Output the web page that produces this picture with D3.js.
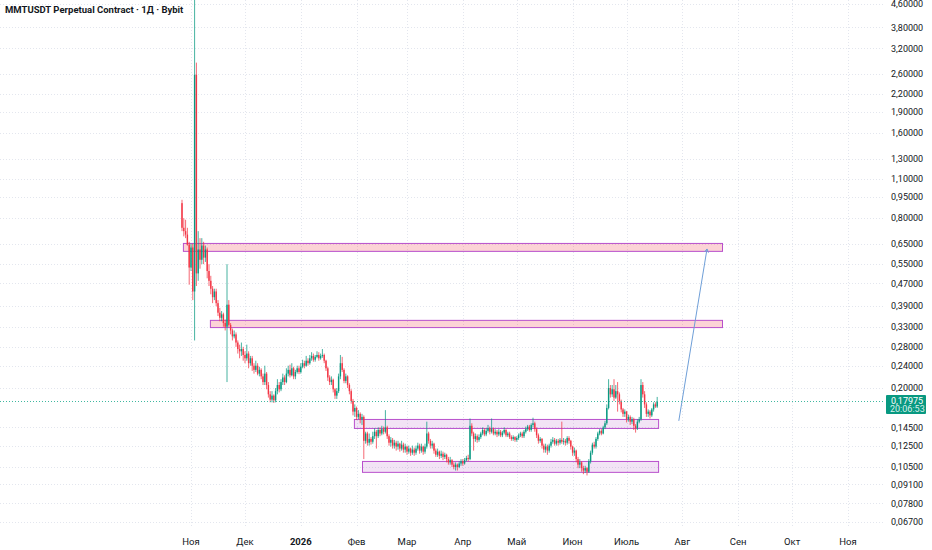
<!DOCTYPE html>
<html>
<head>
<meta charset="utf-8">
<script src="https://cdn.jsdelivr.net/npm/d3@7"></script>
<style>
body { margin: 0; background: #fff; }
svg { display: block; font-family: Roboto, "Liberation Sans", sans-serif; }
</style>
</head>
<body>
<svg id="chart"></svg>
<script>
// daily candles, first one on this day, one per day after
const firstDay = '2025-10-27';

const opens = [
	0.905, 0.74, 0.72, 0.70, 0.645, 0.535, 0.63, 0.44, 2.58, 0.51,
	0.62, 0.57, 0.64, 0.58, 0.62, 0.52, 0.48, 0.45, 0.42, 0.44,
	0.40, 0.37, 0.355, 0.365, 0.34, 0.33, 0.395, 0.335, 0.32, 0.305,
	0.31, 0.29, 0.275, 0.27, 0.275, 0.262, 0.255, 0.265, 0.245, 0.255,
	0.24, 0.232, 0.24, 0.225, 0.232, 0.22, 0.21, 0.225, 0.205, 0.19,
	0.182, 0.188, 0.181, 0.195, 0.205, 0.198, 0.21, 0.218, 0.21, 0.225,
	0.232, 0.222, 0.235, 0.22, 0.228, 0.235, 0.228, 0.238, 0.245, 0.24,
	0.25, 0.245, 0.255, 0.26, 0.252, 0.258, 0.262, 0.255, 0.26, 0.262,
	0.25, 0.235, 0.218, 0.21, 0.214, 0.198, 0.188, 0.195, 0.22, 0.245,
	0.232, 0.212, 0.22, 0.205, 0.195, 0.18, 0.165, 0.17, 0.158, 0.162,
	0.155, 0.158, 0.13, 0.138, 0.128, 0.132, 0.129, 0.135, 0.14, 0.135,
	0.142, 0.138, 0.143, 0.14, 0.145, 0.135, 0.128, 0.131, 0.125, 0.128,
	0.124, 0.127, 0.122, 0.126, 0.121, 0.124, 0.119, 0.122, 0.118, 0.121,
	0.118, 0.122, 0.125, 0.12, 0.124, 0.119, 0.124, 0.138, 0.13, 0.125,
	0.127, 0.12, 0.116, 0.119, 0.115, 0.117, 0.114, 0.116, 0.112, 0.109,
	0.111, 0.107, 0.105, 0.107, 0.105, 0.108, 0.11, 0.108, 0.111, 0.113,
	0.112, 0.147, 0.138, 0.132, 0.135, 0.131, 0.134, 0.138, 0.142, 0.137,
	0.141, 0.144, 0.14, 0.143, 0.138, 0.14, 0.137, 0.14, 0.136, 0.139,
	0.142, 0.136, 0.138, 0.134, 0.132, 0.134, 0.131, 0.133, 0.136, 0.138,
	0.135, 0.14, 0.143, 0.146, 0.142, 0.148, 0.15, 0.143, 0.136, 0.13,
	0.132, 0.125, 0.121, 0.124, 0.12, 0.125, 0.129, 0.131, 0.127, 0.13,
	0.128, 0.131, 0.129, 0.13, 0.128, 0.133, 0.13, 0.124, 0.118, 0.12,
	0.112, 0.107, 0.109, 0.104, 0.102, 0.104, 0.101, 0.11, 0.118, 0.126,
	0.124, 0.132, 0.138, 0.141, 0.138, 0.145, 0.15, 0.17, 0.20, 0.19,
	0.198, 0.185, 0.195, 0.19, 0.18, 0.168, 0.162, 0.165, 0.155, 0.158,
	0.152, 0.155, 0.147, 0.144, 0.152, 0.155, 0.205, 0.19, 0.175, 0.162,
	0.165, 0.16, 0.168, 0.175, 0.172
];
const highs = [
	0.93, 0.80, 0.79, 0.74, 0.66, 0.65, 0.65, 5.3, 2.85, 0.72,
	0.68, 0.68, 0.66, 0.64, 0.63, 0.55, 0.50, 0.46, 0.45, 0.45,
	0.41, 0.385, 0.375, 0.37, 0.35, 0.55, 0.41, 0.34, 0.325, 0.32,
	0.315, 0.295, 0.285, 0.29, 0.28, 0.27, 0.285, 0.27, 0.26, 0.26,
	0.245, 0.25, 0.245, 0.238, 0.235, 0.225, 0.24, 0.228, 0.21, 0.195,
	0.195, 0.19, 0.20, 0.215, 0.21, 0.215, 0.225, 0.222, 0.235, 0.24,
	0.242, 0.245, 0.238, 0.232, 0.24, 0.24, 0.245, 0.252, 0.25, 0.26,
	0.255, 0.262, 0.268, 0.265, 0.262, 0.27, 0.268, 0.265, 0.275, 0.265,
	0.252, 0.238, 0.222, 0.22, 0.216, 0.20, 0.20, 0.225, 0.262, 0.258,
	0.235, 0.225, 0.222, 0.208, 0.198, 0.183, 0.175, 0.172, 0.167, 0.164,
	0.162, 0.16, 0.14, 0.14, 0.138, 0.134, 0.14, 0.144, 0.142, 0.145,
	0.145, 0.147, 0.146, 0.167, 0.147, 0.137, 0.134, 0.133, 0.131, 0.13,
	0.13, 0.128, 0.13, 0.128, 0.127, 0.125, 0.125, 0.123, 0.125, 0.123,
	0.125, 0.128, 0.127, 0.127, 0.125, 0.127, 0.152, 0.14, 0.132, 0.13,
	0.128, 0.122, 0.122, 0.12, 0.12, 0.119, 0.118, 0.117, 0.114, 0.114,
	0.112, 0.109, 0.109, 0.108, 0.11, 0.112, 0.112, 0.113, 0.115, 0.116,
	0.156, 0.15, 0.14, 0.138, 0.137, 0.137, 0.14, 0.145, 0.144, 0.144,
	0.148, 0.146, 0.156, 0.145, 0.143, 0.142, 0.143, 0.142, 0.141, 0.145,
	0.143, 0.14, 0.14, 0.136, 0.136, 0.135, 0.135, 0.138, 0.14, 0.14,
	0.142, 0.146, 0.148, 0.148, 0.15, 0.157, 0.152, 0.145, 0.138, 0.134,
	0.133, 0.127, 0.127, 0.126, 0.127, 0.132, 0.134, 0.133, 0.132, 0.132,
	0.133, 0.152, 0.133, 0.132, 0.135, 0.135, 0.131, 0.125, 0.123, 0.121,
	0.114, 0.112, 0.11, 0.106, 0.106, 0.105, 0.112, 0.12, 0.128, 0.129,
	0.134, 0.14, 0.143, 0.143, 0.147, 0.153, 0.175, 0.215, 0.205, 0.205,
	0.215, 0.205, 0.21, 0.193, 0.182, 0.17, 0.168, 0.166, 0.161, 0.16,
	0.158, 0.157, 0.149, 0.155, 0.158, 0.215, 0.21, 0.195, 0.178, 0.168,
	0.167, 0.17, 0.178, 0.178, 0.186
];
const lows = [
	0.72, 0.69, 0.68, 0.64, 0.465, 0.52, 0.41, 0.295, 0.46, 0.48,
	0.53, 0.55, 0.55, 0.56, 0.49, 0.46, 0.43, 0.40, 0.41, 0.39,
	0.36, 0.345, 0.345, 0.33, 0.32, 0.21, 0.33, 0.31, 0.295, 0.30,
	0.28, 0.265, 0.255, 0.26, 0.25, 0.245, 0.25, 0.235, 0.24, 0.23,
	0.225, 0.228, 0.222, 0.22, 0.215, 0.205, 0.205, 0.198, 0.185, 0.178,
	0.178, 0.177, 0.178, 0.19, 0.193, 0.195, 0.205, 0.205, 0.208, 0.22,
	0.218, 0.22, 0.215, 0.215, 0.225, 0.224, 0.225, 0.235, 0.235, 0.238,
	0.24, 0.242, 0.25, 0.248, 0.248, 0.255, 0.25, 0.252, 0.256, 0.245,
	0.23, 0.212, 0.205, 0.205, 0.193, 0.183, 0.183, 0.192, 0.215, 0.228,
	0.208, 0.208, 0.20, 0.19, 0.176, 0.16, 0.158, 0.154, 0.155, 0.15,
	0.148, 0.112, 0.127, 0.125, 0.125, 0.126, 0.127, 0.132, 0.122, 0.133,
	0.135, 0.136, 0.137, 0.138, 0.132, 0.125, 0.124, 0.122, 0.122, 0.12,
	0.121, 0.119, 0.12, 0.118, 0.118, 0.116, 0.117, 0.115, 0.116, 0.115,
	0.116, 0.12, 0.117, 0.118, 0.116, 0.117, 0.122, 0.127, 0.122, 0.122,
	0.117, 0.114, 0.114, 0.112, 0.113, 0.111, 0.112, 0.109, 0.107, 0.107,
	0.105, 0.103, 0.102, 0.102, 0.104, 0.106, 0.106, 0.107, 0.11, 0.11,
	0.111, 0.135, 0.12, 0.129, 0.128, 0.129, 0.132, 0.136, 0.135, 0.135,
	0.139, 0.137, 0.138, 0.136, 0.136, 0.134, 0.135, 0.134, 0.134, 0.137,
	0.134, 0.134, 0.132, 0.13, 0.13, 0.129, 0.129, 0.131, 0.134, 0.133,
	0.133, 0.138, 0.141, 0.14, 0.14, 0.145, 0.14, 0.133, 0.127, 0.128,
	0.122, 0.118, 0.118, 0.116, 0.118, 0.123, 0.127, 0.125, 0.125, 0.125,
	0.126, 0.127, 0.126, 0.125, 0.126, 0.127, 0.121, 0.115, 0.115, 0.109,
	0.104, 0.104, 0.101, 0.099, 0.10, 0.098, 0.10, 0.108, 0.116, 0.122,
	0.122, 0.13, 0.136, 0.136, 0.137, 0.143, 0.148, 0.168, 0.185, 0.186,
	0.18, 0.183, 0.165, 0.175, 0.164, 0.158, 0.158, 0.151, 0.152, 0.148,
	0.149, 0.142, 0.139, 0.142, 0.15, 0.153, 0.185, 0.17, 0.158, 0.158,
	0.156, 0.158, 0.165, 0.17, 0.17
];
const closes = [
	0.74, 0.72, 0.70, 0.645, 0.535, 0.63, 0.44, 2.58, 0.51, 0.62,
	0.57, 0.64, 0.58, 0.62, 0.52, 0.48, 0.45, 0.42, 0.44, 0.40,
	0.37, 0.355, 0.365, 0.34, 0.33, 0.395, 0.335, 0.32, 0.305, 0.31,
	0.29, 0.275, 0.27, 0.275, 0.262, 0.255, 0.265, 0.245, 0.255, 0.24,
	0.232, 0.24, 0.225, 0.232, 0.22, 0.21, 0.225, 0.205, 0.19, 0.182,
	0.188, 0.181, 0.195, 0.205, 0.198, 0.21, 0.218, 0.21, 0.225, 0.232,
	0.222, 0.235, 0.22, 0.228, 0.235, 0.228, 0.238, 0.245, 0.24, 0.25,
	0.245, 0.255, 0.26, 0.252, 0.258, 0.262, 0.255, 0.26, 0.262, 0.25,
	0.235, 0.218, 0.21, 0.214, 0.198, 0.188, 0.195, 0.22, 0.245, 0.232,
	0.212, 0.22, 0.205, 0.195, 0.18, 0.165, 0.17, 0.158, 0.162, 0.155,
	0.158, 0.13, 0.138, 0.128, 0.132, 0.129, 0.135, 0.14, 0.135, 0.142,
	0.138, 0.143, 0.14, 0.145, 0.135, 0.128, 0.131, 0.125, 0.128, 0.124,
	0.127, 0.122, 0.126, 0.121, 0.124, 0.119, 0.122, 0.118, 0.121, 0.118,
	0.122, 0.125, 0.12, 0.124, 0.119, 0.124, 0.138, 0.13, 0.125, 0.127,
	0.12, 0.116, 0.119, 0.115, 0.117, 0.114, 0.116, 0.112, 0.109, 0.111,
	0.107, 0.105, 0.107, 0.105, 0.108, 0.11, 0.108, 0.111, 0.113, 0.112,
	0.147, 0.138, 0.132, 0.135, 0.131, 0.134, 0.138, 0.142, 0.137, 0.141,
	0.144, 0.14, 0.143, 0.138, 0.14, 0.137, 0.14, 0.136, 0.139, 0.142,
	0.136, 0.138, 0.134, 0.132, 0.134, 0.131, 0.133, 0.136, 0.138, 0.135,
	0.14, 0.143, 0.146, 0.142, 0.148, 0.15, 0.143, 0.136, 0.13, 0.132,
	0.125, 0.121, 0.124, 0.12, 0.125, 0.129, 0.131, 0.127, 0.13, 0.128,
	0.131, 0.129, 0.13, 0.128, 0.133, 0.13, 0.124, 0.118, 0.12, 0.112,
	0.107, 0.109, 0.104, 0.102, 0.104, 0.101, 0.11, 0.118, 0.126, 0.124,
	0.132, 0.138, 0.141, 0.138, 0.145, 0.15, 0.17, 0.20, 0.19, 0.198,
	0.185, 0.195, 0.19, 0.18, 0.168, 0.162, 0.165, 0.155, 0.158, 0.152,
	0.155, 0.147, 0.144, 0.152, 0.155, 0.205, 0.19, 0.175, 0.162, 0.165,
	0.16, 0.168, 0.175, 0.172, 0.17975
];

const priceTicks = [4.6, 3.8, 3.2, 2.6, 2.2, 1.9, 1.6, 1.3, 1.1, 0.95, 0.8, 0.65, 0.55,
	0.47, 0.39, 0.33, 0.28, 0.24, 0.2, 0.145, 0.125, 0.105, 0.091, 0.078, 0.067];
const monthTicks = ['2025-11-01', '2025-12-01', '2026-01-01', '2026-02-01', '2026-03-01', '2026-04-01',
	'2026-05-01', '2026-06-01', '2026-07-01', '2026-08-01', '2026-09-01', '2026-10-01', '2026-11-01'];
const monthLabels = ['Ноя', 'Дек', '2026', 'Фев', 'Мар', 'Апр', 'Май', 'Июн', 'Июль', 'Авг', 'Сен', 'Окт', 'Ноя'];

// drawn zones (rectangles)
const zoneStarts = ['2025-10-27T12:00Z', '2025-11-11T12:00Z', '2026-01-30T12:00Z', '2026-02-04T00:00Z'];
const zoneEnds = ['2026-08-23T00:00Z', '2026-08-23T00:00Z', '2026-07-18T12:00Z', '2026-07-18T12:00Z'];
const zoneHighs = [0.654, 0.349, 0.1554, 0.1103];
const zoneLows = [0.613, 0.329, 0.1444, 0.1009];
const zoneKinds = ['red', 'red', 'purple', 'purple'];

// projection arrow
const arrowDates = ['2026-07-30T00:00Z', '2026-08-14T16:00Z'];
const arrowPrices = [0.153, 0.6225];

const lastPrice = 0.17975;
const countdown = '20:06:53';
const title = 'MMTUSDT Perpetual Contract · 1Д · Bybit';

const width = 932;
const height = 550;
const plotRight = 885;
const plotBottom = 528;
const upColor = '#089981';
const downColor = '#f23645';

function priceText(p) {
	return d3.format('.5f')(p).replace('.', ',');
}

function buildCandles() {
	const start = d3.isoParse(firstDay + 'T00:00Z');
	return closes.map((c, i) => ({
		date: d3.utcDay.offset(start, i),
		open: opens[i],
		high: highs[i],
		low: lows[i],
		close: c,
	}));
}

function render() {
	const svg = d3.select('#chart')
		.attr('width', width)
		.attr('height', height);

	const x = d3.scaleUtc()
		.domain([d3.isoParse('2025-11-01T00:00Z'), d3.isoParse('2026-11-01T00:00Z')])
		.range([191, 848]);
	const y = d3.scaleLog()
		.domain([0.067, 4.6])
		.range([522, 4]);

	svg.append('defs').append('clipPath')
		.attr('id', 'plot')
		.append('rect')
		.attr('x', 0)
		.attr('y', 0)
		.attr('width', plotRight)
		.attr('height', plotBottom);

	// grid
	const grid = svg.append('g');
	grid.selectAll('line.h')
		.data(priceTicks)
		.enter()
		.append('line')
		.attr('x1', 0)
		.attr('x2', plotRight)
		.attr('y1', d => Math.round(y(d)) + 0.5)
		.attr('y2', d => Math.round(y(d)) + 0.5)
		.attr('stroke', '#e3e6ee')
		.attr('stroke-dasharray', '1,2');
	grid.selectAll('line.v')
		.data(monthTicks)
		.enter()
		.append('line')
		.attr('x1', d => Math.round(x(d3.isoParse(d + 'T00:00Z'))) + 0.5)
		.attr('x2', d => Math.round(x(d3.isoParse(d + 'T00:00Z'))) + 0.5)
		.attr('y1', 0)
		.attr('y2', plotBottom)
		.attr('stroke', '#e3e6ee')
		.attr('stroke-dasharray', '1,2');

	const plot = svg.append('g').attr('clip-path', 'url(#plot)');

	// zones
	plot.selectAll('rect.zone')
		.data(zoneStarts)
		.enter()
		.append('rect')
		.attr('x', (d, i) => x(d3.isoParse(d)) + 0.5)
		.attr('y', (d, i) => y(zoneHighs[i]) + 0.5)
		.attr('width', (d, i) => x(d3.isoParse(zoneEnds[i])) - x(d3.isoParse(d)))
		.attr('height', (d, i) => y(zoneLows[i]) - y(zoneHighs[i]))
		.attr('fill', (d, i) => zoneKinds[i] === 'red' ? 'rgba(242,54,69,0.22)' : 'rgba(156,39,176,0.13)')
		.attr('stroke', '#b84fcc')
		.attr('stroke-width', 1);

	// candles
	const candles = buildCandles();
	const g = plot.selectAll('g.candle')
		.data(candles)
		.enter()
		.append('g');
	g.append('line')
		.attr('x1', d => x(d.date))
		.attr('x2', d => x(d.date))
		.attr('y1', d => y(d.high))
		.attr('y2', d => y(d.low))
		.attr('stroke', d => d.close >= d.open ? upColor : downColor)
		.attr('stroke-opacity', 0.75)
		.attr('stroke-width', 1);
	g.append('rect')
		.attr('x', d => x(d.date) - 0.7)
		.attr('width', 1.4)
		.attr('y', d => y(Math.max(d.open, d.close)))
		.attr('height', d => Math.max(1, y(Math.min(d.open, d.close)) - y(Math.max(d.open, d.close))))
		.attr('fill', d => d.close >= d.open ? upColor : downColor);

	// projection arrow
	const ax = arrowDates.map(d => x(d3.isoParse(d)));
	const ay = arrowPrices.map(p => y(p));
	plot.append('line')
		.attr('x1', ax[0])
		.attr('y1', ay[0])
		.attr('x2', ax[1])
		.attr('y2', ay[1])
		.attr('stroke', '#6f9fd8')
		.attr('stroke-width', 1);
	const ang = Math.atan2(ay[1] - ay[0], ax[1] - ax[0]);
	const head = 4;
	plot.append('path')
		.attr('d', `M${ax[1] + head * Math.cos(ang + 2.6)},${ay[1] + head * Math.sin(ang + 2.6)}L${ax[1]},${ay[1]}L${ax[1] + head * Math.cos(ang - 2.6)},${ay[1] + head * Math.sin(ang - 2.6)}`)
		.attr('fill', 'none')
		.attr('stroke', '#6f9fd8')
		.attr('stroke-width', 1);

	// last price line
	svg.append('line')
		.attr('x1', 0)
		.attr('x2', plotRight)
		.attr('y1', Math.round(y(lastPrice)) + 0.5)
		.attr('y2', Math.round(y(lastPrice)) + 0.5)
		.attr('stroke', '#3fb8a0')
		.attr('stroke-dasharray', '1,2');

	// price axis labels
	svg.selectAll('text.price')
		.data(priceTicks)
		.enter()
		.append('text')
		.attr('x', 891)
		.attr('y', d => y(d))
		.attr('dy', '0.35em')
		.attr('font-size', 9)
		.attr('fill', '#131722')
		.text(d => priceText(d));

	// last price tag
	const ty = y(lastPrice);
	svg.append('rect')
		.attr('x', 886)
		.attr('y', ty - 6)
		.attr('width', 40)
		.attr('height', 19)
		.attr('rx', 1)
		.attr('fill', upColor);
	svg.append('text')
		.attr('x', 891)
		.attr('y', ty + 2.5)
		.attr('font-size', 9)
		.attr('fill', '#fff')
		.text(priceText(lastPrice));
	svg.append('text')
		.attr('x', 890)
		.attr('y', ty + 11)
		.attr('font-size', 9)
		.attr('fill', '#d8f0ea')
		.text(countdown);

	// time axis labels
	svg.selectAll('text.month')
		.data(monthTicks)
		.enter()
		.append('text')
		.attr('x', d => x(d3.isoParse(d + 'T00:00Z')))
		.attr('y', 545)
		.attr('text-anchor', 'middle')
		.attr('font-size', 9.5)
		.attr('font-weight', (d, i) => monthLabels[i] === '2026' ? 'bold' : 'normal')
		.attr('fill', '#131722')
		.text((d, i) => monthLabels[i]);

	svg.append('text')
		.attr('x', 5)
		.attr('y', 13)
		.attr('font-size', 9.5)
		.attr('font-weight', 'bold')
		.attr('fill', '#131722')
		.text(title);
}

document.addEventListener('DOMContentLoaded', () => {
	render();
});
</script>
</body>
</html>
